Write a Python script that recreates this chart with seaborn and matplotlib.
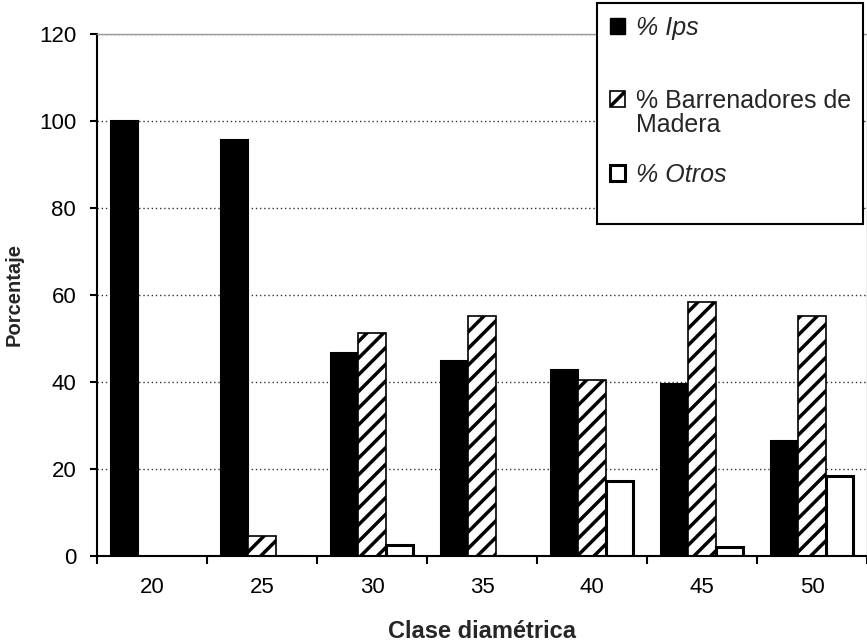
import pandas as pd
import seaborn as sns
import matplotlib.pyplot as plt
from matplotlib.patches import Patch

# dados
clases = ["20", "25", "30", "35", "40", "45", "50"]
ips = [100, 95.6, 46.6, 44.9, 42.8, 39.5, 26.4]
barrenadores = [0, 4.6, 51.2, 55.2, 40.5, 58.5, 55.2]
otros = [0, 0, 2.5, 0, 17.2, 2.1, 18.5]
series = ["% Ips", "% Barrenadores de Madera", "% Otros"]
yticks = [0, 20, 40, 60, 80, 100, 120]

tabela = pd.DataFrame({"Clase": clases, series[0]: ips, series[1]: barrenadores, series[2]: otros})
tabela = tabela.melt(id_vars="Clase", var_name="Serie", value_name="Porcentaje")

sns.set_style("white")
plt.rcParams["font.family"] = ["Liberation Sans", "DejaVu Sans"]
plt.rcParams["hatch.linewidth"] = 2.5

fig = plt.figure(figsize=(8.67, 6.43), dpi=100)
ax = fig.add_axes([97 / 867, 1 - 556 / 643, 770 / 867, 522 / 643])

sns.barplot(data=tabela, x="Clase", y="Porcentaje", hue="Serie", order=clases, hue_order=series,
            palette=["black", "white", "white"], edgecolor="black", linewidth=1.5,
            width=0.74, saturation=1, ax=ax, legend=False)

# hachurado da segunda serie, borda mais grossa na terceira
for barra in ax.containers[1]:
    barra.set_hatch("//")
    barra.set_linewidth(1.2)
for barra in ax.containers[2]:
    barra.set_linewidth(2.2)

ax.set_ylim(0, 120)
ax.set_yticks(yticks)
ax.set_xlim(-0.5, len(clases) - 0.5)
ax.set_xticks(range(len(clases)))
ax.set_xticks([i - 0.5 for i in range(len(clases) + 1)], minor=True)

ax.yaxis.grid(True, linestyle=(0, (1, 2)), color="#333333", linewidth=1)
ax.set_axisbelow(True)

ax.tick_params(axis="y", left=True, length=5, width=1.5, direction="out", pad=10, labelsize=16, colors="black")
ax.tick_params(axis="x", which="major", length=0, pad=15, labelsize=16, colors="black")
ax.tick_params(axis="x", which="minor", bottom=True, length=6, width=1.5, direction="out", colors="black")

for lado in ["left", "bottom"]:
    ax.spines[lado].set_color("black")
    ax.spines[lado].set_linewidth(1.5)
for lado in ["top", "right"]:
    ax.spines[lado].set_color("#999999")
    ax.spines[lado].set_linewidth(1)

ax.set_xlabel("Clase diamétrica", fontsize=17, fontweight="bold")
ax.set_ylabel("Porcentaje", fontsize=14.5, fontweight="bold")
ax.xaxis.set_label_coords(0.5, -0.122)
ax.yaxis.set_label_coords(-0.095, 0.5)

# legenda no estilo do Excel
h_ips = Patch(facecolor="black", edgecolor="black")
h_bar = Patch(facecolor="white", edgecolor="black", hatch="//", linewidth=1.2)
h_otr = Patch(facecolor="white", edgecolor="black", linewidth=2.2)
vazio = Patch(facecolor="none", edgecolor="none")
handles = [h_ips, vazio, vazio, h_bar, vazio, vazio, h_otr, vazio]
labels = ["% Ips", "", "", "% Barrenadores de", "Madera", "", "% Otros", ""]

leg = fig.legend(handles, labels, loc="upper left", bbox_to_anchor=(597 / 867, 1 - 3 / 643),
                 bbox_transform=fig.transFigure, borderaxespad=0, fontsize=18,
                 handlelength=0.6, handleheight=0.6, handletextpad=0.45,
                 labelspacing=0.02, borderpad=0.5, fancybox=False, framealpha=1,
                 edgecolor="black")
leg.get_frame().set_linewidth(1.5)
leg.get_texts()[0].set_style("italic")
leg.get_texts()[6].set_style("italic")

fig.savefig("out.png", dpi=100)
